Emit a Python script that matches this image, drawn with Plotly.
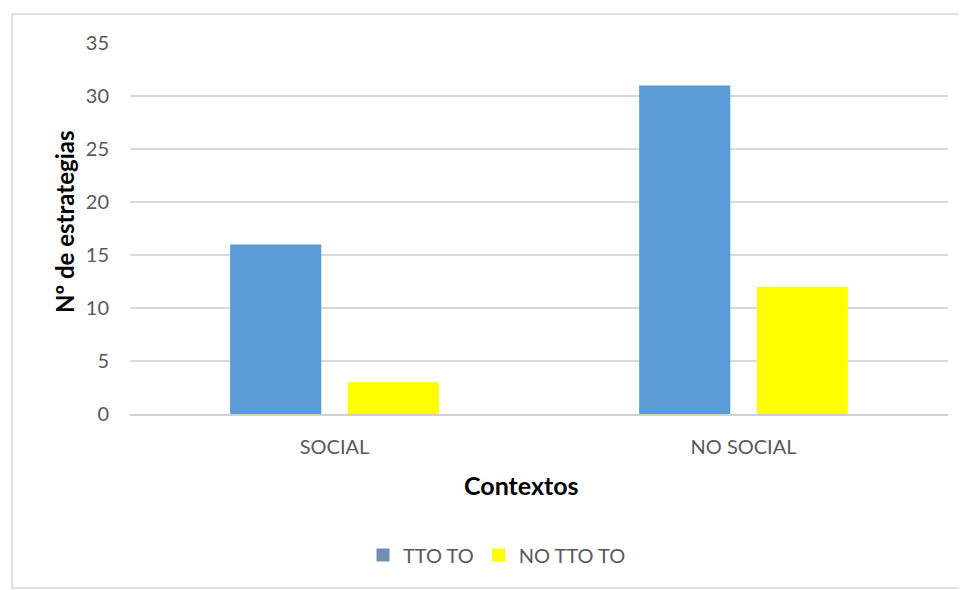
import plotly.graph_objects as go

categories = ["SOCIAL", "NO SOCIAL"]
tto_to = [16, 31]
no_tto_to = [3, 12]
series_names = ["TTO TO", "NO TTO TO"]
bar_colors = ["#5b9bd5", "#ffff00"]
legend_colors = ["#6f8fb3", "#ffff00"]
y_ticks = [0, 5, 10, 15, 20, 25, 30, 35]
x_title = "Contextos"
y_title = "Nº de estrategias"

fig = go.Figure()
fig.add_trace(go.Bar(x=categories, y=tto_to, name=series_names[0], showlegend=False,
                     marker=dict(color=bar_colors[0], line=dict(width=0))))
fig.add_trace(go.Bar(x=categories, y=no_tto_to, name=series_names[1], showlegend=False,
                     marker=dict(color=bar_colors[1], line=dict(width=0))))
for name, col in zip(series_names, legend_colors):
    fig.add_trace(go.Scatter(x=[None], y=[None], mode="markers", name=name,
                             marker=dict(symbol="square", size=13, color=col)))

# page body offset of 8px is accounted for
L, R, T, B = 122, 19, 35, 176
W, H = 959, 582
pw, ph = W - L - R, H - T - B

def px(x):
    return (x - 8 - L) / pw

def py(y):
    return (H - B - (y - 8)) / ph

fig.add_shape(type="rect", xref="paper", yref="paper",
              x0=px(12), x1=px(966), y0=py(588), y1=py(14),
              line=dict(color="#d9d9d9", width=1.5), fillcolor="rgba(0,0,0,0)", layer="below")

fig.add_annotation(text="<b>%s</b>" % x_title, xref="paper", yref="paper",
                   x=px(521), y=py(485), xanchor="center", yanchor="middle", showarrow=False,
                   font=dict(family="Lato, Open Sans, sans-serif", size=25, color="#000000"))
fig.add_annotation(text="<b>%s</b>" % y_title, xref="paper", yref="paper", textangle=-90,
                   x=px(64), y=py(222), xanchor="center", yanchor="middle", showarrow=False,
                   font=dict(family="Lato, Open Sans, sans-serif", size=24, color="#000000"))

fig.update_layout(
    width=W, height=H,
    margin=dict(l=L, r=R, t=T, b=B, autoexpand=False),
    paper_bgcolor="white", plot_bgcolor="white",
    barmode="group", bargap=0.425, bargroupgap=0.225,
    font=dict(family="Lato, Open Sans, sans-serif", size=20, color="#595959"),
    legend=dict(orientation="h", x=px(497), xanchor="center", y=py(555), yanchor="middle",
                font=dict(size=20, color="#595959"), itemwidth=30, traceorder="normal"),
    xaxis=dict(showgrid=False, showline=True, linecolor="#d0d0d0", linewidth=1.5,
               ticks="", ticklabelstandoff=14),
    yaxis=dict(range=[0, 35], tickvals=y_ticks, showgrid=True, gridcolor="#d9d9d9", gridwidth=1.5,
               zeroline=False, showline=False, ticks="", ticklabelstandoff=20),
)

fig.write_html("out.html")
